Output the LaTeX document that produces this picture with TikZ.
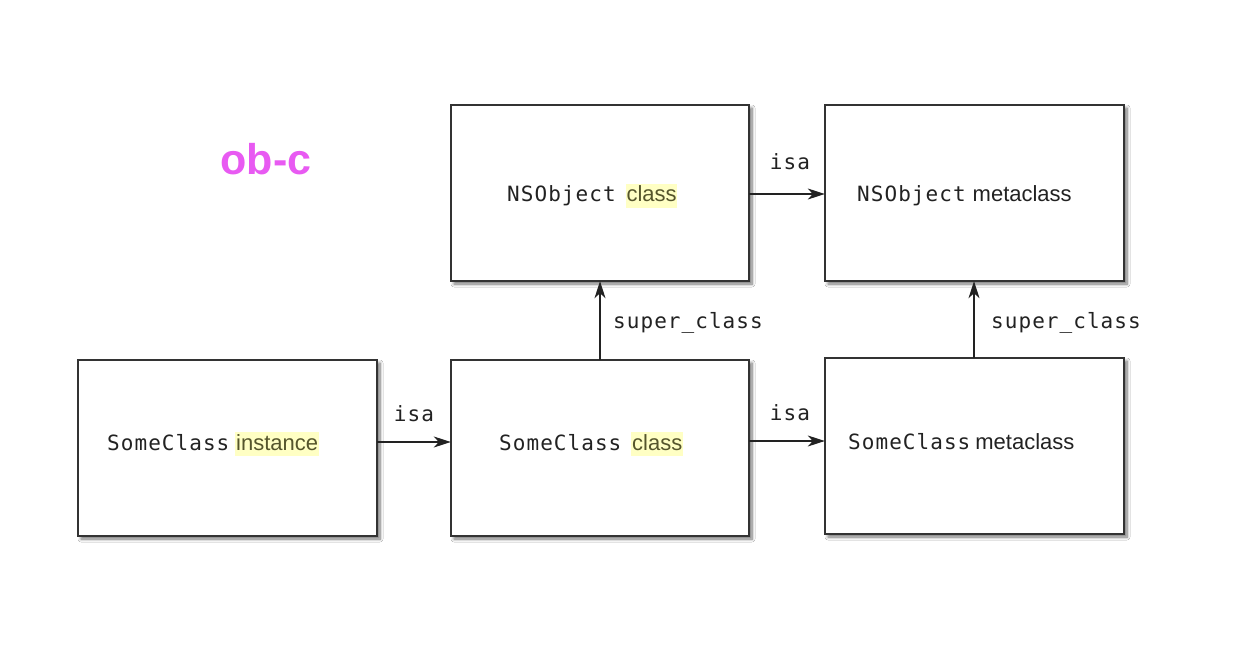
\documentclass[tikz,border=0pt]{standalone}
\usepackage{fontspec}
\setmainfont{Liberation Sans}
\newfontfamily\monof[LetterSpace=5]{DejaVu Sans Mono}
\usetikzlibrary{arrows.meta,shadows.blur}
\definecolor{boxline}{HTML}{333333}
\definecolor{hly}{HTML}{FFFFC4}
\definecolor{hltext}{HTML}{55552C}
\definecolor{txt}{HTML}{222222}
\definecolor{magt}{HTML}{E85AF2}
\newcommand{\hlw}[1]{{\setlength\fboxsep{0.8pt}\colorbox{hly}{\rule[-5pt]{0pt}{22pt}\textcolor{hltext}{#1}}}}
\newcommand{\mw}[1]{{\monof\fontsize{21}{26}\selectfont #1}}
\begin{document}
\begin{tikzpicture}[x=1pt,y=-1pt,
  cbox/.style={draw=boxline,line width=1.4pt,fill=white,
    blur shadow={shadow xshift=3pt,shadow yshift=-3pt,shadow blur steps=8,shadow blur radius=3pt,shadow opacity=55}},
  txtn/.style={anchor=base west,inner sep=0pt,text=txt,font=\fontsize{22}{26}\selectfont},
  lbl/.style={anchor=base,inner sep=0pt,text=txt,font=\monof\fontsize{21}{26}\selectfont},
  arr/.style={draw=txt,line width=1.2pt,-{Stealth[length=17pt,width=11pt,inset=5pt]}}]
\useasboundingbox (0,0) rectangle (1242,660);
\fill[white] (0,0) rectangle (1242,660);
% boxes
\path[cbox] (451,105) rectangle (749,281) coordinate[pos=0.5] (nsc);
\path[cbox] (825,105) rectangle (1124,281) coordinate[pos=0.5] (nsm);
\path[cbox] (78,360) rectangle (377,536) coordinate[pos=0.5] (sci);
\path[cbox] (451,360) rectangle (749,536) coordinate[pos=0.5] (scc);
\path[cbox] (825,358) rectangle (1124,534) coordinate[pos=0.5] (scm);
% box nodes for connectors
\node[minimum width=298pt,minimum height=176pt,inner sep=0pt] (NSC) at (nsc) {};
\node[minimum width=299pt,minimum height=176pt,inner sep=0pt] (NSM) at (nsm) {};
\node[minimum width=299pt,minimum height=176pt,inner sep=0pt] (SCI) at (sci) {};
\node[minimum width=298pt,minimum height=176pt,inner sep=0pt] (SCC) at (scc) {};
\node[minimum width=299pt,minimum height=176pt,inner sep=0pt] (SCM) at (scm) {};
% texts
\node[txtn] (t1) at (107,450) {\mw{SomeClass}\hspace{6pt}\hlw{instance}};
\node[txtn] (t2) at (499,450) {\mw{SomeClass}\hspace{10pt}\hlw{class}};
\node[txtn] (t3) at (848,449) {\mw{SomeClass}\hspace{5pt}metaclass};
\node[txtn] (t4) at (507,202) {\mw{NSObject}\hspace{10pt}\hlw{class}};
\node[txtn] (t5) at (857,202) {\mw{NSObject}\hspace{7pt}metaclass};
\node[anchor=center,inner sep=0pt,text=magt,font=\fontsize{43}{48}\selectfont\bfseries] (title) at (266,159) {ob-c};
% connectors
\draw[arr] (SCI.east |- 0,442) -- (SCC.west |- 0,442);
\draw[arr] (SCC.east |- 0,441) -- (SCM.west |- 0,441);
\draw[arr] (NSC.east |- 0,194) -- (NSM.west |- 0,194);
\draw[arr] (SCC.north -| 600,0) -- (NSC.south -| 600,0);
\draw[arr] (SCM.north -| 974,0) -- (NSM.south -| 974,0);
% labels
\node[lbl] (l1) at (414,421) {isa};
\node[lbl] (l2) at (790,420) {isa};
\node[lbl] (l3) at (790,170) {isa};
\node[lbl] (l4) at (688,328) {super\_class};
\node[lbl] (l5) at (1066,328) {super\_class};
\end{tikzpicture}
\end{document}
